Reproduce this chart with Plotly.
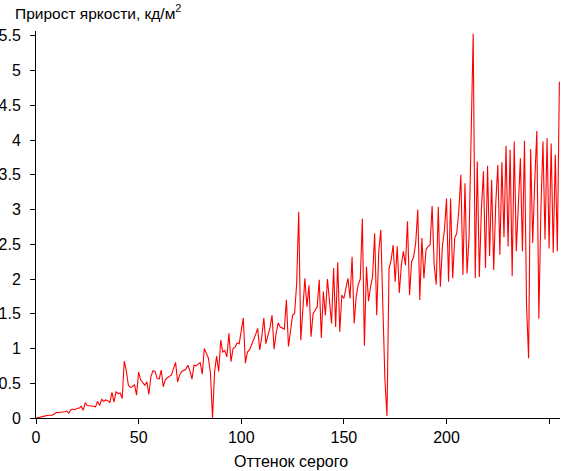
import plotly.graph_objects as go

# Gray level (0..255)
gray_levels = list(range(256))

# Brightness increment, cd/m2
increment = [
    0.00, 0.00, 0.01, 0.02, 0.03, 0.03, 0.04, 0.04, 0.04, 0.06,
    0.08, 0.08, 0.08, 0.09, 0.09, 0.10, 0.07, 0.12, 0.13, 0.12,
    0.14, 0.14, 0.17, 0.11, 0.22, 0.18, 0.18, 0.18, 0.17, 0.16,
    0.24, 0.18, 0.27, 0.24, 0.26, 0.25, 0.22, 0.37, 0.23, 0.38,
    0.35, 0.36, 0.28, 0.82, 0.68, 0.47, 0.44, 0.45, 0.48, 0.33,
    0.66, 0.55, 0.50, 0.47, 0.52, 0.34, 0.60, 0.68, 0.67, 0.57,
    0.56, 0.69, 0.45, 0.55, 0.58, 0.60, 0.62, 0.71, 0.80, 0.52,
    0.62, 0.67, 0.68, 0.70, 0.76, 0.68, 0.56, 0.76, 0.75, 0.77,
    0.80, 0.63, 1.00, 0.93, 0.86, 0.64, 0.00, 0.66, 0.89, 0.67,
    1.12, 0.95, 0.97, 0.88, 1.22, 0.81, 1.00, 1.02, 1.08, 1.07,
    1.25, 1.44, 0.79, 0.95, 0.98, 1.05, 1.12, 1.20, 1.29, 0.98,
    1.17, 1.44, 1.07, 1.17, 1.30, 1.48, 0.99, 1.22, 1.37, 1.31,
    1.30, 1.28, 1.70, 1.03, 1.25, 1.48, 1.50, 1.94, 2.97, 1.12,
    1.55, 2.01, 1.60, 1.91, 1.17, 1.50, 1.55, 1.60, 1.99, 1.15,
    1.82, 1.48, 2.00, 1.68, 1.36, 2.16, 1.31, 2.24, 1.24, 1.77,
    1.72, 1.87, 2.01, 1.72, 2.32, 1.36, 1.75, 1.92, 2.00, 2.87,
    1.04, 2.18, 1.68, 1.89, 2.04, 2.66, 1.48, 2.40, 2.71, 1.60,
    0.55, 0.03, 2.15, 2.27, 2.49, 1.96, 2.47, 1.80, 2.20, 2.40,
    2.20, 2.83, 1.77, 2.25, 2.32, 2.52, 3.00, 1.70, 2.59, 2.01,
    2.42, 2.47, 2.49, 3.05, 2.20, 1.92, 3.04, 1.89, 2.47, 2.71,
    3.16, 1.96, 3.16, 2.01, 2.59, 2.66, 2.98, 3.50, 2.06, 3.38,
    2.08, 2.60, 3.98, 5.53, 2.01, 3.69, 2.03, 3.00, 3.55, 2.16,
    3.63, 2.33, 3.43, 2.13, 3.09, 3.64, 2.35, 3.68, 2.60, 3.92,
    2.47, 3.86, 2.04, 3.98, 2.40, 3.20, 3.74, 2.40, 3.99, 1.62,
    0.86, 3.87, 2.52, 3.40, 4.13, 1.43, 3.00, 3.98, 2.57, 4.03,
    2.44, 3.95, 2.38, 3.79, 2.40, 4.84,
]

x_ticks = [0, 50, 100, 150, 200, 250]
y_ticks = [0, 0.5, 1, 1.5, 2, 2.5, 3, 3.5, 4, 4.5, 5, 5.5]
y_tick_text = ["0", "0.5", "1", "1.5", "2", "2.5", "3", "3.5", "4", "4.5", "5", "5.5"]

title_text = "Прирост яркости, кд/м<sup>2</sup>"
x_title_text = "Оттенок серого"

W, H = 562, 471
L, R, T, B = 36, 2, 31, 53
pw, ph = W - L - R, H - T - B

FONT = "Liberation Sans, Arial, sans-serif"

fig = go.Figure()
fig.add_trace(go.Scatter(
    x=gray_levels, y=increment, mode="lines",
    line=dict(color="#ff0000", width=1.1),
    hoverinfo="skip", showlegend=False,
))

fig.update_layout(
    width=W, height=H,
    margin=dict(l=L, r=R, t=T, b=B, pad=0, autoexpand=False),
    paper_bgcolor="white", plot_bgcolor="white",
    font=dict(family=FONT, size=16, color="black"),
    xaxis=dict(
        range=[0, 255.3], showgrid=False, zeroline=False,
        showline=True, linecolor="black", linewidth=1,
        ticks="outside", ticklen=5, tickcolor="black", tickwidth=1,
        tickvals=x_ticks, ticktext=[str(v) for v in x_ticks],
        tickfont=dict(family=FONT, size=16, color="black"),
        automargin=False,
    ),
    yaxis=dict(
        range=[0, 5.57], showgrid=False, zeroline=False,
        showline=True, linecolor="black", linewidth=1,
        ticks="outside", ticklen=5, tickcolor="black", tickwidth=1,
        tickvals=y_ticks, ticktext=y_tick_text,
        tickfont=dict(family=FONT, size=16, color="black"),
        ticklabelstandoff=6, automargin=False,
    ),
    annotations=[
        dict(text=title_text, xref="paper", yref="paper",
             x=(13 - L) / pw, y=(H - B - 12) / ph,
             xanchor="left", yanchor="middle", showarrow=False,
             font=dict(family=FONT, size=15.5, color="black")),
        dict(text=x_title_text, xref="paper", yref="paper",
             x=(291 - L) / pw, y=(H - B - 461) / ph,
             xanchor="center", yanchor="middle", showarrow=False,
             font=dict(family=FONT, size=16, color="black")),
    ],
)

fig.write_html(
    "out.html",
    config={"displayModeBar": False, "staticPlot": True},
    post_script="document.body.style.margin='0';document.body.style.padding='0';",
)
